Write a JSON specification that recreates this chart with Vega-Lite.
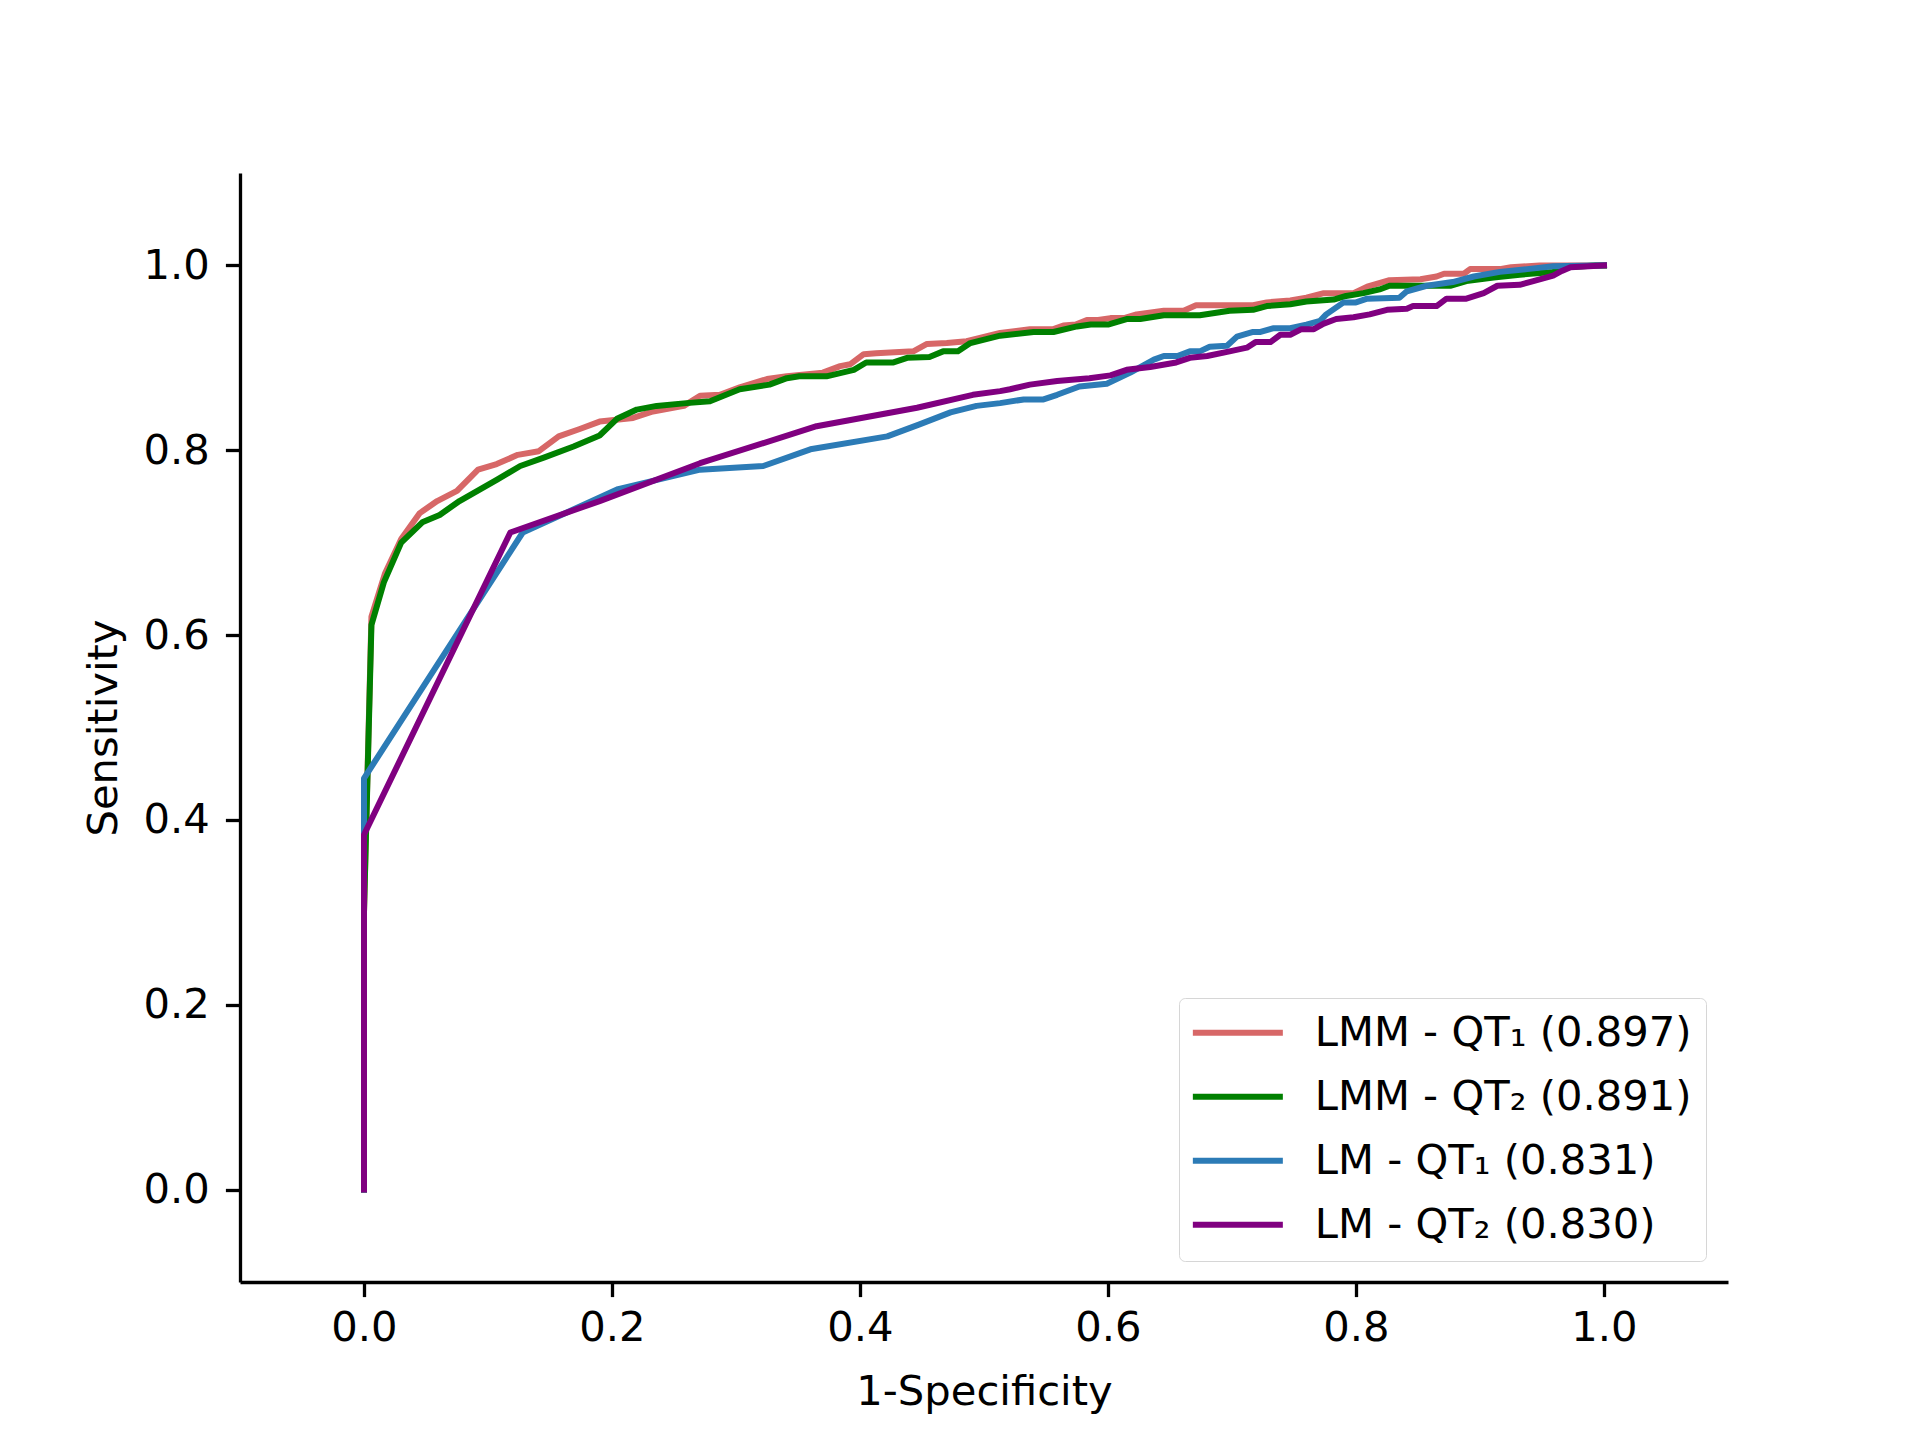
{
  "$schema": "https://vega.github.io/schema/vega-lite/v6.json",
  "width": 1488,
  "height": 1109,
  "autosize": {"type": "none"},
  "padding": {"left": 240, "top": 173, "right": 192, "bottom": 158},
  "background": "white",
  "config": {
    "view": {"stroke": null},
    "font": "DejaVu Sans",
    "axis": {
      "grid": false,
      "domainColor": "black",
      "domainWidth": 3.3,
      "tickColor": "black",
      "tickWidth": 3.3,
      "tickSize": 14.6,
      "labelFont": "DejaVu Sans",
      "labelFontSize": 41.7,
      "labelColor": "black",
      "titleFont": "DejaVu Sans",
      "titleFontSize": 41.7,
      "titleFontWeight": "normal",
      "titleColor": "black"
    },
    "legend": {
      "labelFont": "DejaVu Sans",
      "labelFontSize": 41.7,
      "labelColor": "black",
      "labelLimit": 1000
    }
  },
  "data": {
    "values": [
      {"series": "LMM - QT₁ (0.897)", "fpr": 0, "tpr": 0},
      {"series": "LMM - QT₁ (0.897)", "fpr": 0, "tpr": 0.30},
      {"series": "LMM - QT₁ (0.897)", "fpr": 0.006, "tpr": 0.620},
      {"series": "LMM - QT₁ (0.897)", "fpr": 0.017, "tpr": 0.667},
      {"series": "LMM - QT₁ (0.897)", "fpr": 0.030, "tpr": 0.704},
      {"series": "LMM - QT₁ (0.897)", "fpr": 0.045, "tpr": 0.732},
      {"series": "LMM - QT₁ (0.897)", "fpr": 0.059, "tpr": 0.745},
      {"series": "LMM - QT₁ (0.897)", "fpr": 0.075, "tpr": 0.756},
      {"series": "LMM - QT₁ (0.897)", "fpr": 0.092, "tpr": 0.779},
      {"series": "LMM - QT₁ (0.897)", "fpr": 0.107, "tpr": 0.785},
      {"series": "LMM - QT₁ (0.897)", "fpr": 0.124, "tpr": 0.795},
      {"series": "LMM - QT₁ (0.897)", "fpr": 0.141, "tpr": 0.799},
      {"series": "LMM - QT₁ (0.897)", "fpr": 0.157, "tpr": 0.815},
      {"series": "LMM - QT₁ (0.897)", "fpr": 0.174, "tpr": 0.823},
      {"series": "LMM - QT₁ (0.897)", "fpr": 0.190, "tpr": 0.831},
      {"series": "LMM - QT₁ (0.897)", "fpr": 0.217, "tpr": 0.835},
      {"series": "LMM - QT₁ (0.897)", "fpr": 0.233, "tpr": 0.842},
      {"series": "LMM - QT₁ (0.897)", "fpr": 0.258, "tpr": 0.848},
      {"series": "LMM - QT₁ (0.897)", "fpr": 0.271, "tpr": 0.859},
      {"series": "LMM - QT₁ (0.897)", "fpr": 0.287, "tpr": 0.860},
      {"series": "LMM - QT₁ (0.897)", "fpr": 0.303, "tpr": 0.868},
      {"series": "LMM - QT₁ (0.897)", "fpr": 0.325, "tpr": 0.877},
      {"series": "LMM - QT₁ (0.897)", "fpr": 0.341, "tpr": 0.880},
      {"series": "LMM - QT₁ (0.897)", "fpr": 0.370, "tpr": 0.884},
      {"series": "LMM - QT₁ (0.897)", "fpr": 0.384, "tpr": 0.891},
      {"series": "LMM - QT₁ (0.897)", "fpr": 0.392, "tpr": 0.893},
      {"series": "LMM - QT₁ (0.897)", "fpr": 0.403, "tpr": 0.904},
      {"series": "LMM - QT₁ (0.897)", "fpr": 0.413, "tpr": 0.905},
      {"series": "LMM - QT₁ (0.897)", "fpr": 0.443, "tpr": 0.907},
      {"series": "LMM - QT₁ (0.897)", "fpr": 0.454, "tpr": 0.915},
      {"series": "LMM - QT₁ (0.897)", "fpr": 0.470, "tpr": 0.916},
      {"series": "LMM - QT₁ (0.897)", "fpr": 0.486, "tpr": 0.918},
      {"series": "LMM - QT₁ (0.897)", "fpr": 0.513, "tpr": 0.927},
      {"series": "LMM - QT₁ (0.897)", "fpr": 0.537, "tpr": 0.931},
      {"series": "LMM - QT₁ (0.897)", "fpr": 0.556, "tpr": 0.931},
      {"series": "LMM - QT₁ (0.897)", "fpr": 0.564, "tpr": 0.935},
      {"series": "LMM - QT₁ (0.897)", "fpr": 0.574, "tpr": 0.936},
      {"series": "LMM - QT₁ (0.897)", "fpr": 0.583, "tpr": 0.941},
      {"series": "LMM - QT₁ (0.897)", "fpr": 0.592, "tpr": 0.941},
      {"series": "LMM - QT₁ (0.897)", "fpr": 0.602, "tpr": 0.943},
      {"series": "LMM - QT₁ (0.897)", "fpr": 0.613, "tpr": 0.943},
      {"series": "LMM - QT₁ (0.897)", "fpr": 0.623, "tpr": 0.947},
      {"series": "LMM - QT₁ (0.897)", "fpr": 0.645, "tpr": 0.951},
      {"series": "LMM - QT₁ (0.897)", "fpr": 0.661, "tpr": 0.951},
      {"series": "LMM - QT₁ (0.897)", "fpr": 0.671, "tpr": 0.957},
      {"series": "LMM - QT₁ (0.897)", "fpr": 0.717, "tpr": 0.957},
      {"series": "LMM - QT₁ (0.897)", "fpr": 0.728, "tpr": 0.960},
      {"series": "LMM - QT₁ (0.897)", "fpr": 0.747, "tpr": 0.962},
      {"series": "LMM - QT₁ (0.897)", "fpr": 0.760, "tpr": 0.965},
      {"series": "LMM - QT₁ (0.897)", "fpr": 0.774, "tpr": 0.970},
      {"series": "LMM - QT₁ (0.897)", "fpr": 0.798, "tpr": 0.970},
      {"series": "LMM - QT₁ (0.897)", "fpr": 0.809, "tpr": 0.977},
      {"series": "LMM - QT₁ (0.897)", "fpr": 0.827, "tpr": 0.984},
      {"series": "LMM - QT₁ (0.897)", "fpr": 0.852, "tpr": 0.985},
      {"series": "LMM - QT₁ (0.897)", "fpr": 0.865, "tpr": 0.988},
      {"series": "LMM - QT₁ (0.897)", "fpr": 0.871, "tpr": 0.991},
      {"series": "LMM - QT₁ (0.897)", "fpr": 0.887, "tpr": 0.991},
      {"series": "LMM - QT₁ (0.897)", "fpr": 0.892, "tpr": 0.996},
      {"series": "LMM - QT₁ (0.897)", "fpr": 0.916, "tpr": 0.996},
      {"series": "LMM - QT₁ (0.897)", "fpr": 0.925, "tpr": 0.998},
      {"series": "LMM - QT₁ (0.897)", "fpr": 0.948, "tpr": 1.0},
      {"series": "LMM - QT₁ (0.897)", "fpr": 1.0, "tpr": 1.0},

      {"series": "LMM - QT₂ (0.891)", "fpr": 0, "tpr": 0},
      {"series": "LMM - QT₂ (0.891)", "fpr": 0, "tpr": 0.30},
      {"series": "LMM - QT₂ (0.891)", "fpr": 0.006, "tpr": 0.611},
      {"series": "LMM - QT₂ (0.891)", "fpr": 0.016, "tpr": 0.657},
      {"series": "LMM - QT₂ (0.891)", "fpr": 0.030, "tpr": 0.700},
      {"series": "LMM - QT₂ (0.891)", "fpr": 0.047, "tpr": 0.722},
      {"series": "LMM - QT₂ (0.891)", "fpr": 0.061, "tpr": 0.730},
      {"series": "LMM - QT₂ (0.891)", "fpr": 0.077, "tpr": 0.745},
      {"series": "LMM - QT₂ (0.891)", "fpr": 0.107, "tpr": 0.768},
      {"series": "LMM - QT₂ (0.891)", "fpr": 0.126, "tpr": 0.783},
      {"series": "LMM - QT₂ (0.891)", "fpr": 0.145, "tpr": 0.792},
      {"series": "LMM - QT₂ (0.891)", "fpr": 0.169, "tpr": 0.804},
      {"series": "LMM - QT₂ (0.891)", "fpr": 0.190, "tpr": 0.816},
      {"series": "LMM - QT₂ (0.891)", "fpr": 0.204, "tpr": 0.834},
      {"series": "LMM - QT₂ (0.891)", "fpr": 0.220, "tpr": 0.844},
      {"series": "LMM - QT₂ (0.891)", "fpr": 0.236, "tpr": 0.848},
      {"series": "LMM - QT₂ (0.891)", "fpr": 0.260, "tpr": 0.851},
      {"series": "LMM - QT₂ (0.891)", "fpr": 0.279, "tpr": 0.853},
      {"series": "LMM - QT₂ (0.891)", "fpr": 0.303, "tpr": 0.866},
      {"series": "LMM - QT₂ (0.891)", "fpr": 0.327, "tpr": 0.871},
      {"series": "LMM - QT₂ (0.891)", "fpr": 0.341, "tpr": 0.878},
      {"series": "LMM - QT₂ (0.891)", "fpr": 0.351, "tpr": 0.880},
      {"series": "LMM - QT₂ (0.891)", "fpr": 0.373, "tpr": 0.880},
      {"series": "LMM - QT₂ (0.891)", "fpr": 0.395, "tpr": 0.887},
      {"series": "LMM - QT₂ (0.891)", "fpr": 0.405, "tpr": 0.895},
      {"series": "LMM - QT₂ (0.891)", "fpr": 0.427, "tpr": 0.895},
      {"series": "LMM - QT₂ (0.891)", "fpr": 0.438, "tpr": 0.900},
      {"series": "LMM - QT₂ (0.891)", "fpr": 0.456, "tpr": 0.901},
      {"series": "LMM - QT₂ (0.891)", "fpr": 0.467, "tpr": 0.907},
      {"series": "LMM - QT₂ (0.891)", "fpr": 0.479, "tpr": 0.907},
      {"series": "LMM - QT₂ (0.891)", "fpr": 0.489, "tpr": 0.916},
      {"series": "LMM - QT₂ (0.891)", "fpr": 0.513, "tpr": 0.924},
      {"series": "LMM - QT₂ (0.891)", "fpr": 0.540, "tpr": 0.928},
      {"series": "LMM - QT₂ (0.891)", "fpr": 0.556, "tpr": 0.928},
      {"series": "LMM - QT₂ (0.891)", "fpr": 0.575, "tpr": 0.934},
      {"series": "LMM - QT₂ (0.891)", "fpr": 0.586, "tpr": 0.936},
      {"series": "LMM - QT₂ (0.891)", "fpr": 0.600, "tpr": 0.936},
      {"series": "LMM - QT₂ (0.891)", "fpr": 0.615, "tpr": 0.942},
      {"series": "LMM - QT₂ (0.891)", "fpr": 0.626, "tpr": 0.942},
      {"series": "LMM - QT₂ (0.891)", "fpr": 0.645, "tpr": 0.946},
      {"series": "LMM - QT₂ (0.891)", "fpr": 0.674, "tpr": 0.946},
      {"series": "LMM - QT₂ (0.891)", "fpr": 0.698, "tpr": 0.951},
      {"series": "LMM - QT₂ (0.891)", "fpr": 0.717, "tpr": 0.952},
      {"series": "LMM - QT₂ (0.891)", "fpr": 0.728, "tpr": 0.956},
      {"series": "LMM - QT₂ (0.891)", "fpr": 0.747, "tpr": 0.958},
      {"series": "LMM - QT₂ (0.891)", "fpr": 0.760, "tpr": 0.961},
      {"series": "LMM - QT₂ (0.891)", "fpr": 0.782, "tpr": 0.963},
      {"series": "LMM - QT₂ (0.891)", "fpr": 0.792, "tpr": 0.967},
      {"series": "LMM - QT₂ (0.891)", "fpr": 0.806, "tpr": 0.970},
      {"series": "LMM - QT₂ (0.891)", "fpr": 0.819, "tpr": 0.974},
      {"series": "LMM - QT₂ (0.891)", "fpr": 0.827, "tpr": 0.978},
      {"series": "LMM - QT₂ (0.891)", "fpr": 0.876, "tpr": 0.978},
      {"series": "LMM - QT₂ (0.891)", "fpr": 0.889, "tpr": 0.983},
      {"series": "LMM - QT₂ (0.891)", "fpr": 0.911, "tpr": 0.987},
      {"series": "LMM - QT₂ (0.891)", "fpr": 0.932, "tpr": 0.990},
      {"series": "LMM - QT₂ (0.891)", "fpr": 0.959, "tpr": 0.993},
      {"series": "LMM - QT₂ (0.891)", "fpr": 0.970, "tpr": 0.998},
      {"series": "LMM - QT₂ (0.891)", "fpr": 0.993, "tpr": 1.0},
      {"series": "LMM - QT₂ (0.891)", "fpr": 1.0, "tpr": 1.0},

      {"series": "LM - QT₁ (0.831)", "fpr": 0, "tpr": 0},
      {"series": "LM - QT₁ (0.831)", "fpr": 0, "tpr": 0.445},
      {"series": "LM - QT₁ (0.831)", "fpr": 0.128, "tpr": 0.711},
      {"series": "LM - QT₁ (0.831)", "fpr": 0.205, "tpr": 0.758},
      {"series": "LM - QT₁ (0.831)", "fpr": 0.271, "tpr": 0.779},
      {"series": "LM - QT₁ (0.831)", "fpr": 0.322, "tpr": 0.783},
      {"series": "LM - QT₁ (0.831)", "fpr": 0.360, "tpr": 0.801},
      {"series": "LM - QT₁ (0.831)", "fpr": 0.422, "tpr": 0.815},
      {"series": "LM - QT₁ (0.831)", "fpr": 0.448, "tpr": 0.828},
      {"series": "LM - QT₁ (0.831)", "fpr": 0.473, "tpr": 0.841},
      {"series": "LM - QT₁ (0.831)", "fpr": 0.494, "tpr": 0.848},
      {"series": "LM - QT₁ (0.831)", "fpr": 0.513, "tpr": 0.851},
      {"series": "LM - QT₁ (0.831)", "fpr": 0.532, "tpr": 0.855},
      {"series": "LM - QT₁ (0.831)", "fpr": 0.548, "tpr": 0.855},
      {"series": "LM - QT₁ (0.831)", "fpr": 0.559, "tpr": 0.860},
      {"series": "LM - QT₁ (0.831)", "fpr": 0.577, "tpr": 0.869},
      {"series": "LM - QT₁ (0.831)", "fpr": 0.599, "tpr": 0.872},
      {"series": "LM - QT₁ (0.831)", "fpr": 0.618, "tpr": 0.884},
      {"series": "LM - QT₁ (0.831)", "fpr": 0.637, "tpr": 0.898},
      {"series": "LM - QT₁ (0.831)", "fpr": 0.645, "tpr": 0.902},
      {"series": "LM - QT₁ (0.831)", "fpr": 0.656, "tpr": 0.902},
      {"series": "LM - QT₁ (0.831)", "fpr": 0.666, "tpr": 0.907},
      {"series": "LM - QT₁ (0.831)", "fpr": 0.674, "tpr": 0.907},
      {"series": "LM - QT₁ (0.831)", "fpr": 0.682, "tpr": 0.912},
      {"series": "LM - QT₁ (0.831)", "fpr": 0.696, "tpr": 0.913},
      {"series": "LM - QT₁ (0.831)", "fpr": 0.704, "tpr": 0.923},
      {"series": "LM - QT₁ (0.831)", "fpr": 0.717, "tpr": 0.928},
      {"series": "LM - QT₁ (0.831)", "fpr": 0.723, "tpr": 0.928},
      {"series": "LM - QT₁ (0.831)", "fpr": 0.733, "tpr": 0.932},
      {"series": "LM - QT₁ (0.831)", "fpr": 0.747, "tpr": 0.932},
      {"series": "LM - QT₁ (0.831)", "fpr": 0.760, "tpr": 0.936},
      {"series": "LM - QT₁ (0.831)", "fpr": 0.771, "tpr": 0.940},
      {"series": "LM - QT₁ (0.831)", "fpr": 0.776, "tpr": 0.947},
      {"series": "LM - QT₁ (0.831)", "fpr": 0.790, "tpr": 0.960},
      {"series": "LM - QT₁ (0.831)", "fpr": 0.800, "tpr": 0.960},
      {"series": "LM - QT₁ (0.831)", "fpr": 0.809, "tpr": 0.964},
      {"series": "LM - QT₁ (0.831)", "fpr": 0.835, "tpr": 0.965},
      {"series": "LM - QT₁ (0.831)", "fpr": 0.841, "tpr": 0.972},
      {"series": "LM - QT₁ (0.831)", "fpr": 0.857, "tpr": 0.978},
      {"series": "LM - QT₁ (0.831)", "fpr": 0.878, "tpr": 0.982},
      {"series": "LM - QT₁ (0.831)", "fpr": 0.895, "tpr": 0.988},
      {"series": "LM - QT₁ (0.831)", "fpr": 0.916, "tpr": 0.993},
      {"series": "LM - QT₁ (0.831)", "fpr": 0.938, "tpr": 0.996},
      {"series": "LM - QT₁ (0.831)", "fpr": 0.959, "tpr": 0.999},
      {"series": "LM - QT₁ (0.831)", "fpr": 1.0, "tpr": 1.0},

      {"series": "LM - QT₂ (0.830)", "fpr": 0, "tpr": 0},
      {"series": "LM - QT₂ (0.830)", "fpr": 0, "tpr": 0.384},
      {"series": "LM - QT₂ (0.830)", "fpr": 0.118, "tpr": 0.711},
      {"series": "LM - QT₂ (0.830)", "fpr": 0.190, "tpr": 0.745},
      {"series": "LM - QT₂ (0.830)", "fpr": 0.271, "tpr": 0.786},
      {"series": "LM - QT₂ (0.830)", "fpr": 0.365, "tpr": 0.826},
      {"series": "LM - QT₂ (0.830)", "fpr": 0.446, "tpr": 0.846},
      {"series": "LM - QT₂ (0.830)", "fpr": 0.491, "tpr": 0.860},
      {"series": "LM - QT₂ (0.830)", "fpr": 0.513, "tpr": 0.864},
      {"series": "LM - QT₂ (0.830)", "fpr": 0.521, "tpr": 0.866},
      {"series": "LM - QT₂ (0.830)", "fpr": 0.537, "tpr": 0.871},
      {"series": "LM - QT₂ (0.830)", "fpr": 0.559, "tpr": 0.875},
      {"series": "LM - QT₂ (0.830)", "fpr": 0.585, "tpr": 0.878},
      {"series": "LM - QT₂ (0.830)", "fpr": 0.602, "tpr": 0.881},
      {"series": "LM - QT₂ (0.830)", "fpr": 0.615, "tpr": 0.887},
      {"series": "LM - QT₂ (0.830)", "fpr": 0.634, "tpr": 0.890},
      {"series": "LM - QT₂ (0.830)", "fpr": 0.655, "tpr": 0.895},
      {"series": "LM - QT₂ (0.830)", "fpr": 0.666, "tpr": 0.900},
      {"series": "LM - QT₂ (0.830)", "fpr": 0.680, "tpr": 0.902},
      {"series": "LM - QT₂ (0.830)", "fpr": 0.698, "tpr": 0.907},
      {"series": "LM - QT₂ (0.830)", "fpr": 0.712, "tpr": 0.911},
      {"series": "LM - QT₂ (0.830)", "fpr": 0.719, "tpr": 0.917},
      {"series": "LM - QT₂ (0.830)", "fpr": 0.731, "tpr": 0.917},
      {"series": "LM - QT₂ (0.830)", "fpr": 0.739, "tpr": 0.925},
      {"series": "LM - QT₂ (0.830)", "fpr": 0.747, "tpr": 0.925},
      {"series": "LM - QT₂ (0.830)", "fpr": 0.756, "tpr": 0.931},
      {"series": "LM - QT₂ (0.830)", "fpr": 0.766, "tpr": 0.931},
      {"series": "LM - QT₂ (0.830)", "fpr": 0.774, "tpr": 0.937},
      {"series": "LM - QT₂ (0.830)", "fpr": 0.784, "tpr": 0.942},
      {"series": "LM - QT₂ (0.830)", "fpr": 0.798, "tpr": 0.944},
      {"series": "LM - QT₂ (0.830)", "fpr": 0.811, "tpr": 0.947},
      {"series": "LM - QT₂ (0.830)", "fpr": 0.825, "tpr": 0.952},
      {"series": "LM - QT₂ (0.830)", "fpr": 0.841, "tpr": 0.953},
      {"series": "LM - QT₂ (0.830)", "fpr": 0.846, "tpr": 0.956},
      {"series": "LM - QT₂ (0.830)", "fpr": 0.865, "tpr": 0.956},
      {"series": "LM - QT₂ (0.830)", "fpr": 0.873, "tpr": 0.964},
      {"series": "LM - QT₂ (0.830)", "fpr": 0.889, "tpr": 0.964},
      {"series": "LM - QT₂ (0.830)", "fpr": 0.903, "tpr": 0.970},
      {"series": "LM - QT₂ (0.830)", "fpr": 0.914, "tpr": 0.978},
      {"series": "LM - QT₂ (0.830)", "fpr": 0.932, "tpr": 0.979},
      {"series": "LM - QT₂ (0.830)", "fpr": 0.943, "tpr": 0.983},
      {"series": "LM - QT₂ (0.830)", "fpr": 0.959, "tpr": 0.989},
      {"series": "LM - QT₂ (0.830)", "fpr": 0.966, "tpr": 0.994},
      {"series": "LM - QT₂ (0.830)", "fpr": 0.973, "tpr": 0.998},
      {"series": "LM - QT₂ (0.830)", "fpr": 1.0, "tpr": 1.0}
    ]
  },
  "mark": {
    "type": "line",
    "strokeWidth": 6,
    "strokeJoin": "round",
    "strokeCap": "square",
    "clip": true
  },
  "encoding": {
    "x": {
      "field": "fpr",
      "type": "quantitative",
      "title": "1-Specificity",
      "scale": {"domain": [-0.1, 1.1], "nice": false, "zero": false},
      "axis": {
        "values": [0, 0.2, 0.4, 0.6, 0.8, 1.0],
        "format": ".1f",
        "labelPadding": 11,
        "titlePadding": 22
      }
    },
    "y": {
      "field": "tpr",
      "type": "quantitative",
      "title": "Sensitivity",
      "scale": {"domain": [-0.1, 1.1], "nice": false, "zero": false},
      "axis": {
        "values": [0, 0.2, 0.4, 0.6, 0.8, 1.0],
        "format": ".1f",
        "labelPadding": 16,
        "titlePadding": 18
      }
    },
    "color": {
      "field": "series",
      "type": "nominal",
      "scale": {
        "domain": ["LMM - QT₁ (0.897)", "LMM - QT₂ (0.891)", "LM - QT₁ (0.831)", "LM - QT₂ (0.830)"],
        "range": ["#d76767", "#008000", "#2c7bb6", "#800080"]
      },
      "legend": {
        "title": null,
        "orient": "none",
        "legendX": 939,
        "legendY": 825,
        "direction": "vertical",
        "symbolType": "M-3,0H3",
        "symbolSize": 900,
        "symbolStrokeWidth": 6,
        "symbolOffset": 24,
        "labelOffset": 56,
        "rowPadding": 21,
        "padding": 14,
        "strokeColor": "#d6d6d6",
        "fillColor": "white",
        "cornerRadius": 6
      }
    },
    "order": {"value": null}
  }
}
